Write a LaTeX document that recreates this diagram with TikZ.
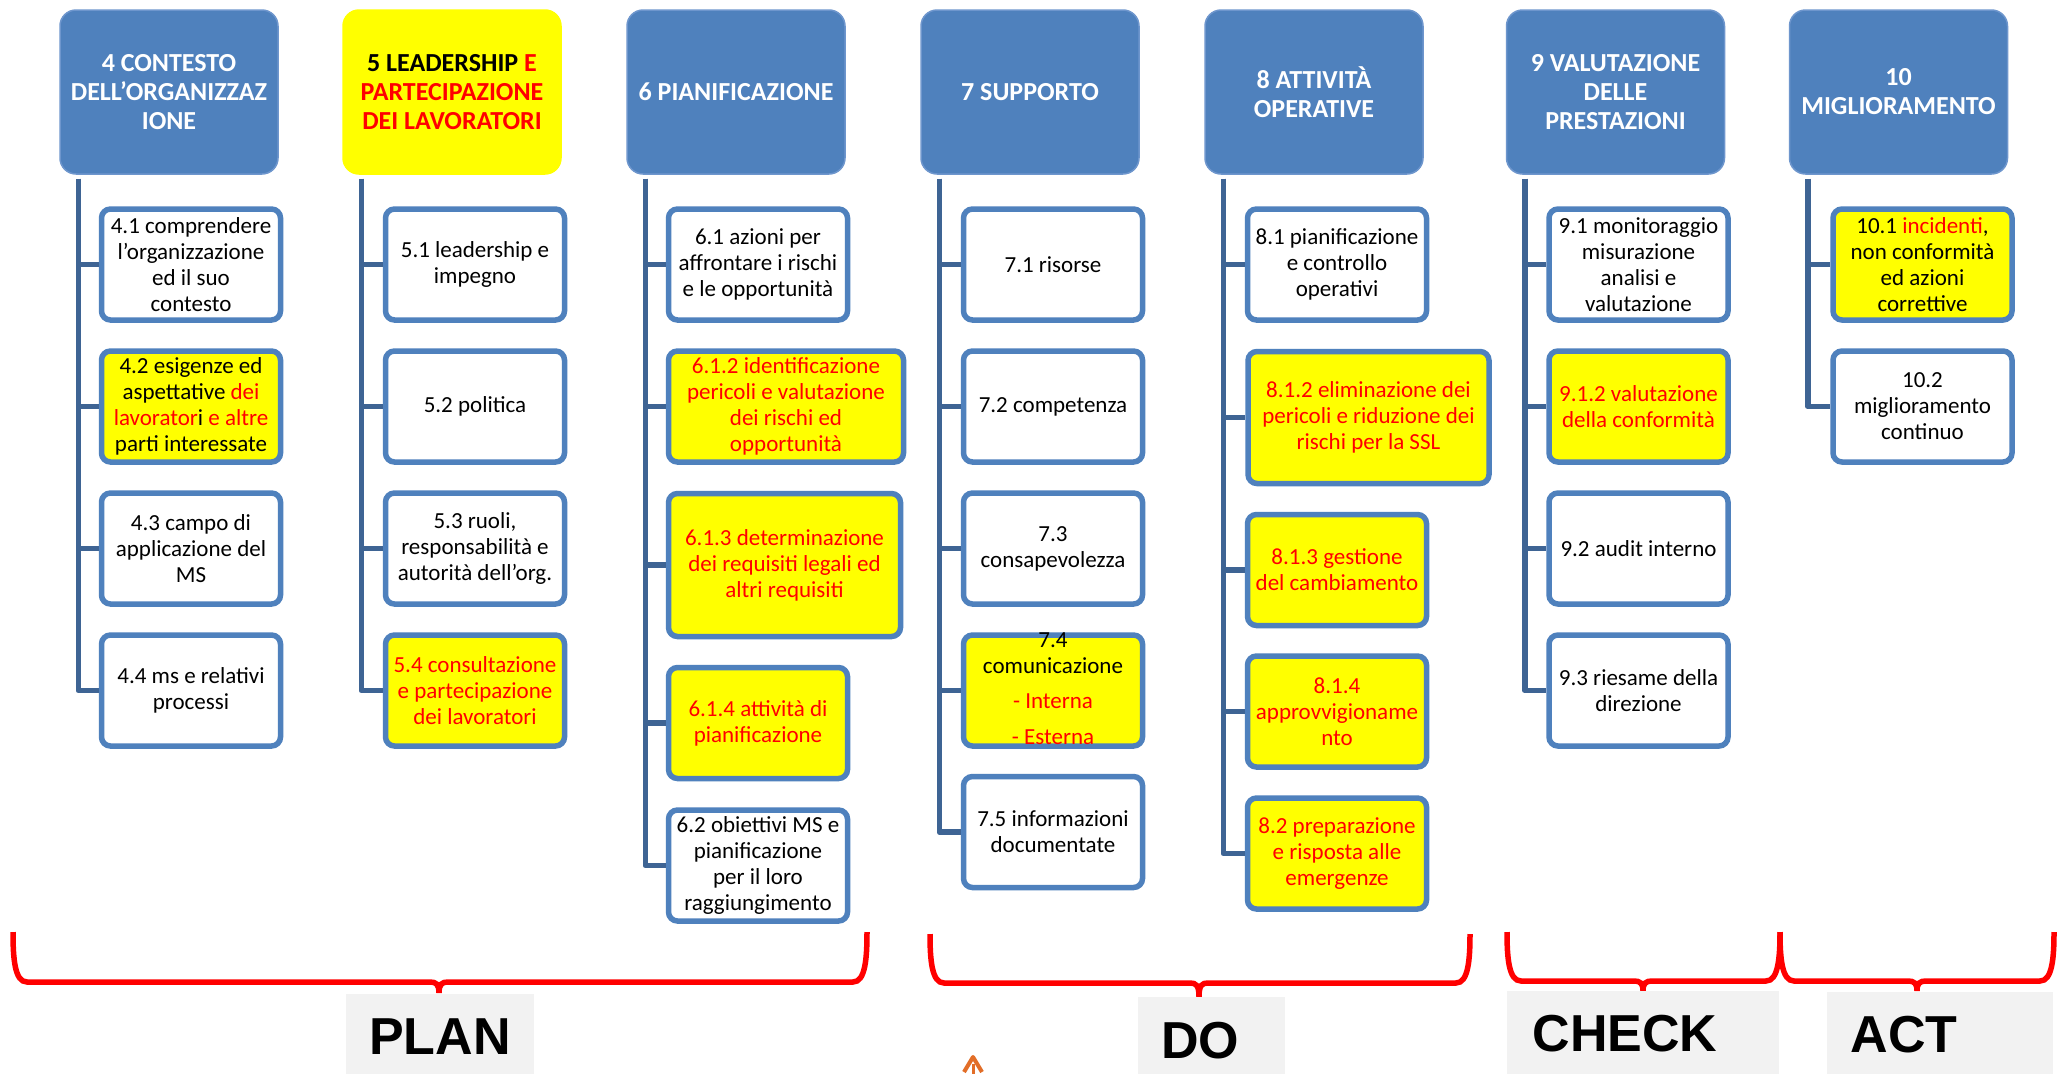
\documentclass[tikz,border=0pt]{standalone}
\usepackage{fontspec}
\setmainfont{Carlito}
\newfontfamily\labfont{Liberation Sans}

\definecolor{hdrblue}{RGB}{79,129,189}
\definecolor{hdredge}{RGB}{110,150,205}
\definecolor{trunkblue}{RGB}{62,100,148}
\definecolor{boxyellow}{RGB}{255,255,0}
\definecolor{txtred}{RGB}{255,0,0}
\definecolor{labgray}{RGB}{242,242,242}
\definecolor{logoorange}{RGB}{226,110,40}

\newcommand\rt[1]{\textcolor{txtred}{#1}}

% curly bracket under a group of clauses: left, right, centre, top, bar y, tip y
\newcommand\pdcabrace[6]{%
  \draw[brace] (#1,#4) .. controls (#1,{#5-22}) and ({#1+2},#5) .. ({#1+14},#5)
    -- ({#3-9},#5) .. controls ({#3-3},#5) and (#3,{#5+2}) .. (#3,#6)
    .. controls (#3,{#5+2}) and ({#3+3},#5) .. ({#3+9},#5)
    -- ({#2-14},#5) .. controls ({#2-2},#5) and (#2,{#5-22}) .. (#2,#4);}

\tikzset{
  hdr/.style={rectangle, rounded corners=16pt, fill=hdrblue, draw=hdredge,
    line width=1.5pt, minimum width=218pt, minimum height=164pt,
    text=white, align=center, inner sep=2pt,
    font=\fontsize{26}{29}\selectfont\bfseries},
  cbox/.style={rectangle, rounded corners=9pt, draw=hdrblue, line width=5.5pt,
    fill=white, minimum width=179pt, minimum height=111pt, align=center,
    inner sep=1pt, font=\fontsize{23}{26}\selectfont},
  ybox/.style={cbox, fill=boxyellow},
  rbox/.style={ybox, text=txtred},
  cbtext/.style={align=center, inner sep=0pt, font=\fontsize{23}{26}\selectfont},
  link/.style={draw=trunkblue, line width=5.5pt, line join=round},
  brace/.style={draw=txtred, line width=5.5pt},
  labtxt/.style={inner sep=0pt, font=\labfont\fontsize{52}{52}\selectfont\bfseries}
}

\begin{document}
\begin{tikzpicture}[x=1pt, y=-1pt]
\useasboundingbox (0,0) rectangle (2065,1074);
\fill[white] (0,0) rectangle (2065,1074);

% ---- clause headers ----
\node[hdr] (h4) at (169,92) {4 CONTESTO\\DELL’ORGANIZZAZ\\IONE};
\node[hdr, fill=boxyellow, draw=boxyellow, text=black] (h5) at (452,92)
  {5 LEADERSHIP \rt{E}\\\rt{PARTECIPAZIONE}\\\rt{DEI LAVORATORI}};
\node[hdr] (h6) at (736,92) {6 PIANIFICAZIONE};
\node[hdr] (h7) at (1030,92) {7 SUPPORTO};
\node[hdr] (h8) at (1314,92) {8 ATTIVITÀ\\OPERATIVE};
\node[hdr] (h9) at (1615.5,92) {9 VALUTAZIONE\\DELLE\\PRESTAZIONI};
\node[hdr] (h10) at (1898.5,92) {10\\MIGLIORAMENTO};

% trunk tops, just below each header
\foreach \h in {4,5,6,7,8,9,10}
  \coordinate (t\h) at ([xshift=19pt,yshift=-4pt]h\h.south west);

% ---- clause 4 ----
\node[cbox] (c41) at (191,264.5) {4.1 comprendere\\l’organizzazione\\ed il suo\\contesto};
\node[ybox] (c42) at (191,406.5) {4.2 esigenze ed\\aspettative \rt{dei}\\\rt{lavorator}i \rt{e altre}\\parti interessate};
\node[cbox] (c43) at (191,548.5) {4.3 campo di\\applicazione del\\MS};
\node[cbox] (c44) at (191,690.5) {4.4 ms e relativi\\processi};

% ---- clause 5 ----
\node[cbox] (c51) at (475,264.5) {5.1 leadership e\\impegno};
\node[cbox] (c52) at (475,406.5) {5.2 politica};
\node[cbox] (c53) at (475,548.5) {5.3 ruoli,\\responsabilità e\\autorità dell’org.};
\node[rbox] (c54) at (475,690.5) {5.4 consultazione\\e partecipazione\\dei lavoratori};

% ---- clause 6 ----
\node[cbox] (c61) at (758,264.5) {6.1 azioni per\\affrontare i rischi\\e le opportunità};
\node[rbox, minimum width=235pt] (c612) at (786,406.5) {6.1.2 identificazione\\pericoli e valutazione\\dei rischi ed\\opportunità};
\node[rbox, minimum width=232pt, minimum height=143pt] (c613) at (784.5,565) {6.1.3 determinazione\\dei requisiti legali ed\\altri requisiti};
\node[rbox] (c614) at (758,723) {6.1.4 attività di\\pianificazione};
\node[cbox] (c62) at (758,865.5) {6.2 obiettivi MS e\\pianificazione\\per il loro\\raggiungimento};

% ---- clause 7 ----
\node[cbox] (c71) at (1053,264.5) {7.1 risorse};
\node[cbox] (c72) at (1053,406.5) {7.2 competenza};
\node[cbox] (c73) at (1053,548.5) {7.3\\consapevolezza};
\node[ybox] (c74) at (1053,690.5) {};
\node[cbtext] (c74t) at (1053,689) {7.4\\comunicazione\\[9pt]\rt{- Interna}\\[10pt]\rt{- Esterna}};
\node[cbox] (c75) at (1053,832) {7.5 informazioni\\documentate};

% ---- clause 8 ----
\node[cbox] (c81) at (1337,264.5) {8.1 pianificazione\\e controllo\\operativi};
\node[rbox, minimum width=241pt, minimum height=132pt] (c812) at (1368.5,417.5) {8.1.2 eliminazione dei\\pericoli e riduzione dei\\rischi per la SSL};
\node[rbox] (c813) at (1337,570) {8.1.3 gestione\\del cambiamento};
\node[rbox] (c814) at (1337,711.5) {8.1.4\\approvvigioname\\nto};
\node[rbox] (c82) at (1337,853.5) {8.2 preparazione\\e risposta alle\\emergenze};

% ---- clause 9 ----
\node[cbox] (c91) at (1638.5,264.5) {9.1 monitoraggio\\misurazione\\analisi e\\valutazione};
\node[rbox] (c912) at (1638.5,406.5) {9.1.2 valutazione\\della conformità};
\node[cbox] (c92) at (1638.5,548.5) {9.2 audit interno};
\node[cbox] (c93) at (1638.5,690.5) {9.3 riesame della\\direzione};

% ---- clause 10 ----
\node[ybox] (c101) at (1922.5,264.5) {10.1 \rt{incidenti},\\non conformità\\ed azioni\\correttive};
\node[cbox] (c102) at (1922.5,406.5) {10.2\\miglioramento\\continuo};

% ---- trunks and branches ----
\foreach \c in {c41,c42,c43,c44} \draw[link] (t4) |- (\c.west);
\foreach \c in {c51,c52,c53,c54} \draw[link] (t5) |- (\c.west);
\foreach \c in {c61,c612,c613,c614,c62} \draw[link] (t6) |- (\c.west);
\foreach \c in {c71,c72,c73,c74,c75} \draw[link] (t7) |- (\c.west);
\foreach \c in {c81,c812,c813,c814,c82} \draw[link] (t8) |- (\c.west);
\foreach \c in {c91,c912,c92,c93} \draw[link] (t9) |- (\c.west);
\foreach \c in {c101,c102} \draw[link] (t10) |- (\c.west);

% ---- PDCA brackets ----
\pdcabrace{13}{867}{439}{932}{982}{993}
\pdcabrace{930}{1470}{1199}{934}{983}{997}
\pdcabrace{1507}{1780}{1643}{932}{981}{991}
\pdcabrace{1780}{2054}{1917}{932}{981}{991}

% ---- phase labels ----
\fill[labgray] (346,994) rectangle (534,1074);
\fill[labgray] (1138,997) rectangle (1285,1074);
\fill[labgray] (1507,991) rectangle (1779,1074);
\fill[labgray] (1827,992) rectangle (2053,1074);
\node[labtxt] (plan) at (440,1037) {PLAN};
\node[labtxt] (do) at (1200,1041) {DO};
\node[labtxt] (check) at (1625,1034) {CHECK};
\node[labtxt] (act) at (1904,1035) {ACT};

% small logo fragment at the lower edge
\draw[logoorange, line width=4pt, line join=round] (964,1072) -- (973,1057) -- (982,1072);
\draw[logoorange, line width=3pt] (973,1064) -- (973,1074);
\end{tikzpicture}
\end{document}
